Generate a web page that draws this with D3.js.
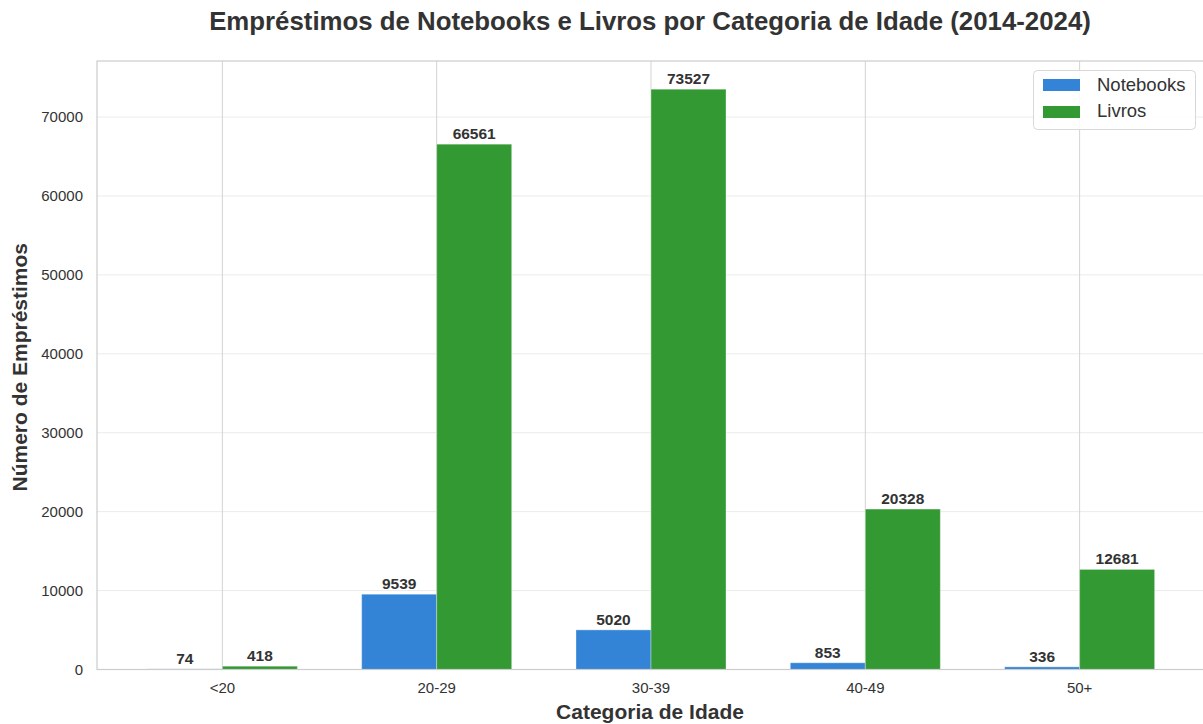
<!DOCTYPE html>
<html><head><meta charset="utf-8">
<script src="https://cdn.jsdelivr.net/npm/d3@7"></script>
<style>body{margin:0;background:#fff;} svg{display:block;font-family:"Liberation Sans",Arial,sans-serif;}</style>
</head><body>
<svg id="c" width="1203" height="724"></svg>
<script>
const categories = ["<20","20-29","30-39","40-49","50+"];
const notebooks = [74, 9539, 5020, 853, 336];
const livros = [418, 66561, 73527, 20328, 12681];
const yTicks = [0,10000,20000,30000,40000,50000,60000,70000];
const seriesNames = ["Notebooks","Livros"];
const colors = ["#3383d7","#339933"];

const svg = d3.select("#c");
const L = 97, R = 1205, T = 61, B = 669.5;
const n = categories.length;
const x = d3.scaleLinear().domain([-0.585, n - 1 + 0.585]).range([L, R]);
const y = d3.scaleLinear().domain([0, 77100]).range([B, T]);
const bw = 0.35;

// grid
const g = svg.append("g");
g.selectAll("line.hg").data(yTicks).enter().append("line")
  .attr("x1", L).attr("x2", R).attr("y1", d=>y(d)).attr("y2", d=>y(d))
  .attr("stroke", "#ebebeb").attr("stroke-width", 1);
g.selectAll("line.vg").data(categories).enter().append("line")
  .attr("x1", (d,i)=>x(i)).attr("x2", (d,i)=>x(i)).attr("y1", T).attr("y2", B)
  .attr("stroke", "#d3d3d3").attr("stroke-width", 1);

// bars
const series = [notebooks, livros];
series.forEach((vals, s) => {
  const off = s === 0 ? -bw : 0;
  svg.append("g").selectAll("rect").data(vals).enter().append("rect")
    .attr("x", (d,i)=>x(i + off))
    .attr("width", x(bw) - x(0))
    .attr("y", d=>y(d))
    .attr("height", d=>y(0)-y(d))
    .attr("fill", colors[s])
    .attr("stroke", "#ffffff").attr("stroke-opacity", 0.35).attr("stroke-width", 1);
  svg.append("g").selectAll("text").data(vals).enter().append("text")
    .attr("x", (d,i)=>x(i + off + bw/2))
    .attr("y", d=>y(d) - 5)
    .attr("text-anchor", "middle")
    .attr("font-size", 15.5).attr("font-weight", "bold").attr("fill", "#333")
    .text(d=>d);
});

// spines
svg.append("rect").attr("x", L).attr("y", T).attr("width", R-L).attr("height", B-T)
  .attr("fill", "none").attr("stroke", "#cccccc").attr("stroke-width", 1.2);

// y tick labels
svg.append("g").selectAll("text").data(yTicks).enter().append("text")
  .attr("x", L - 14).attr("y", d=>y(d)).attr("dy", "0.35em")
  .attr("text-anchor", "end").attr("font-size", 15).attr("fill", "#333")
  .text(d=>d);
// x tick labels
svg.append("g").selectAll("text").data(categories).enter().append("text")
  .attr("x", (d,i)=>x(i)).attr("y", 693)
  .attr("text-anchor", "middle").attr("font-size", 15).attr("fill", "#333")
  .text(d=>d);

// axis titles
svg.append("text").attr("x", 650).attr("y", 719).attr("text-anchor","middle")
  .attr("font-size", 21).attr("font-weight","bold").attr("fill","#333").text("Categoria de Idade");
svg.append("text").attr("transform", `translate(27,${(T+B)/2 + 2}) rotate(-90)`).attr("text-anchor","middle")
  .attr("font-size", 21).attr("font-weight","bold").attr("fill","#333").text("Número de Empréstimos");
// title
svg.append("text").attr("x", 650).attr("y", 30).attr("text-anchor","middle")
  .attr("font-size", 25.8).attr("font-weight","bold").attr("fill","#333")
  .text("Empréstimos de Notebooks e Livros por Categoria de Idade (2014-2024)");

// legend
const lg = svg.append("g");
lg.append("rect").attr("x", 1033.5).attr("y", 70.5).attr("width", 162).attr("height", 59).attr("rx", 4)
  .attr("fill", "#fff").attr("fill-opacity", 0.85).attr("stroke", "#d8d8d8");
seriesNames.forEach((nm, i) => {
  lg.append("rect").attr("x", 1043).attr("y", 79 + i*27).attr("width", 37).attr("height", 12)
    .attr("fill", colors[i]);
  lg.append("text").attr("x", 1097).attr("y", 91 + i*26)
    .attr("font-size", 18.5).attr("fill", "#333").text(nm);
});
</script>
</body></html>
